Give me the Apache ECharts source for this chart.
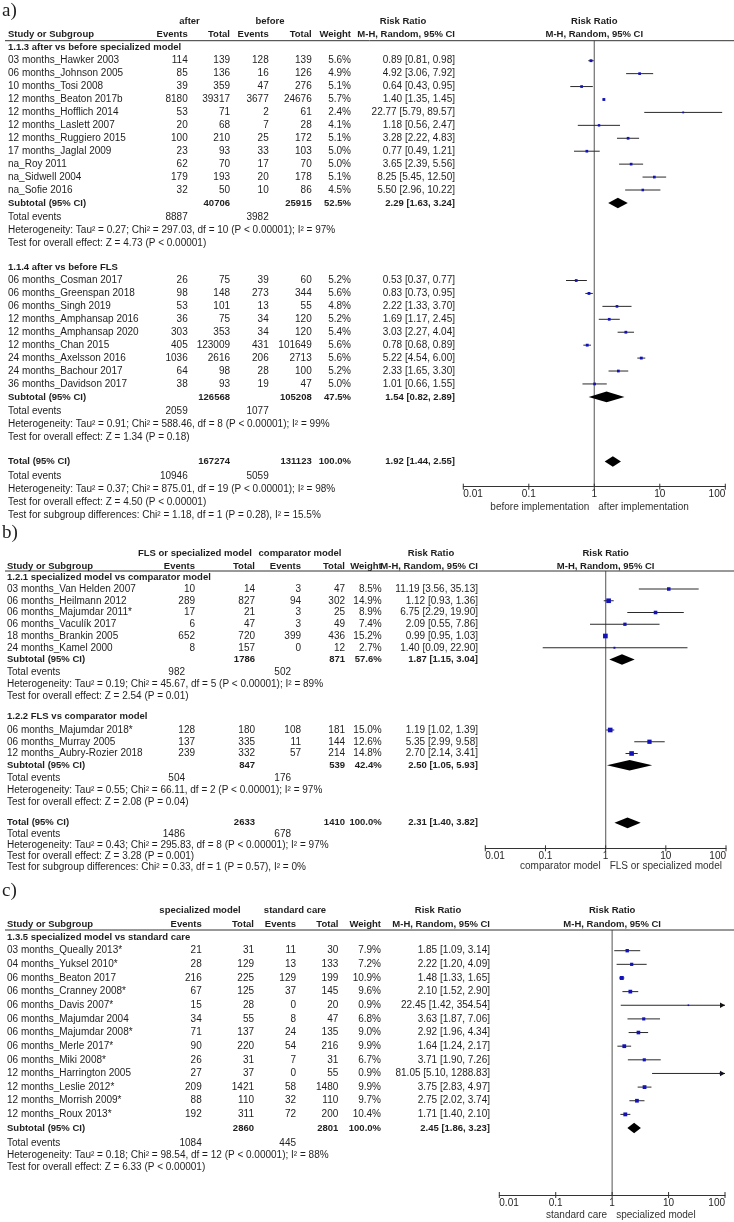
<!DOCTYPE html>
<html><head><meta charset="utf-8">
<script src="https://cdn.jsdelivr.net/npm/echarts@6/dist/echarts.min.js"></script>
<style>html,body{margin:0;padding:0;background:#fff}#c{width:734px;height:1222px}</style>
</head><body><div id="c"></div>
<script>
// ---------------- DATA ----------------
const TICKS = [0.01, 0.1, 1, 10, 100];
const TICK_LABELS = ['0.01', '0.1', '1', '10', '100'];

// Panel a, subgroup 1.1.3
const A1_NAMES = ['03 months_Hawker 2003','06 months_Johnson 2005','10 months_Tosi 2008','12 months_Beaton 2017b','12 months_Hofflich 2014','12 months_Laslett 2007','12 months_Ruggiero 2015','17 months_Jaglal 2009','na_Roy 2011','na_Sidwell 2004','na_Sofie 2016'];
const A1_E1 = [114, 85, 39, 8180, 53, 20, 100, 23, 62, 179, 32];
const A1_T1 = [139, 136, 359, 39317, 71, 68, 210, 93, 70, 193, 50];
const A1_E2 = [128, 16, 47, 3677, 2, 7, 25, 33, 17, 20, 10];
const A1_T2 = [139, 126, 276, 24676, 61, 28, 172, 103, 70, 178, 86];
const A1_W  = [5.6, 4.9, 5.1, 5.7, 2.4, 4.1, 5.1, 5.0, 5.0, 5.1, 4.5];
const A1_RR = [0.89, 4.92, 0.64, 1.40, 22.77, 1.18, 3.28, 0.77, 3.65, 8.25, 5.50];
const A1_LO = [0.81, 3.06, 0.43, 1.35, 5.79, 0.56, 2.22, 0.49, 2.39, 5.45, 2.96];
const A1_HI = [0.98, 7.92, 0.95, 1.45, 89.57, 2.47, 4.83, 1.21, 5.56, 12.50, 10.22];
const A1_SUB = [40706, 25915, 52.5, 2.29, 1.63, 3.24];
const A1_EV = [8887, 3982];
const A1_HET = 'Heterogeneity: Tau² = 0.27; Chi² = 297.03, df = 10 (P < 0.00001); I² = 97%';
const A1_Z = 'Test for overall effect: Z = 4.73 (P < 0.00001)';

// Panel a, subgroup 1.1.4
const A2_NAMES = ['06 months_Cosman 2017','06 months_Greenspan 2018','06 months_Singh 2019','12 months_Amphansap 2016','12 months_Amphansap 2020','12 months_Chan 2015','24 months_Axelsson 2016','24 months_Bachour 2017','36 months_Davidson 2017'];
const A2_E1 = [26, 98, 53, 36, 303, 405, 1036, 64, 38];
const A2_T1 = [75, 148, 101, 75, 353, 123009, 2616, 98, 93];
const A2_E2 = [39, 273, 13, 34, 34, 431, 206, 28, 19];
const A2_T2 = [60, 344, 55, 120, 120, 101649, 2713, 100, 47];
const A2_W  = [5.2, 5.6, 4.8, 5.2, 5.4, 5.6, 5.6, 5.2, 5.0];
const A2_RR = [0.53, 0.83, 2.22, 1.69, 3.03, 0.78, 5.22, 2.33, 1.01];
const A2_LO = [0.37, 0.73, 1.33, 1.17, 2.27, 0.68, 4.54, 1.65, 0.66];
const A2_HI = [0.77, 0.95, 3.70, 2.45, 4.04, 0.89, 6.00, 3.30, 1.55];
const A2_SUB = [126568, 105208, 47.5, 1.54, 0.82, 2.89];
const A2_EV = [2059, 1077];
const A2_HET = 'Heterogeneity: Tau² = 0.91; Chi² = 588.46, df = 8 (P < 0.00001); I² = 99%';
const A2_Z = 'Test for overall effect: Z = 1.34 (P = 0.18)';

const AT_SUB = [167274, 131123, 100.0, 1.92, 1.44, 2.55];
const AT_EV = [10946, 5059];
const AT_HET = 'Heterogeneity: Tau² = 0.37; Chi² = 875.01, df = 19 (P < 0.00001); I² = 98%';
const AT_Z = 'Test for overall effect: Z = 4.50 (P < 0.00001)';
const AT_SG = 'Test for subgroup differences: Chi² = 1.18, df = 1 (P = 0.28), I² = 15.5%';

// Panel b, subgroup 1.2.1
const B1_NAMES = ['03 months_Van Helden 2007','06 months_Heilmann 2012','06 months_Majumdar 2011*','06 months_Vaculík 2017','18 months_Brankin 2005','24 months_Kamel 2000'];
const B1_E1 = [10, 289, 17, 6, 652, 8];
const B1_T1 = [14, 827, 21, 47, 720, 157];
const B1_E2 = [3, 94, 3, 3, 399, 0];
const B1_T2 = [47, 302, 25, 49, 436, 12];
const B1_W  = [8.5, 14.9, 8.9, 7.4, 15.2, 2.7];
const B1_RR = [11.19, 1.12, 6.75, 2.09, 0.99, 1.40];
const B1_LO = [3.56, 0.93, 2.29, 0.55, 0.95, 0.09];
const B1_HI = [35.13, 1.36, 19.90, 7.86, 1.03, 22.90];
const B1_SUB = [1786, 871, 57.6, 1.87, 1.15, 3.04];
const B1_EV = [982, 502];
const B1_HET = 'Heterogeneity: Tau² = 0.19; Chi² = 45.67, df = 5 (P < 0.00001); I² = 89%';
const B1_Z = 'Test for overall effect: Z = 2.54 (P = 0.01)';

// Panel b, subgroup 1.2.2
const B2_NAMES = ['06 months_Majumdar 2018*','06 months_Murray 2005','12 months_Aubry-Rozier 2018'];
const B2_E1 = [128, 137, 239];
const B2_T1 = [180, 335, 332];
const B2_E2 = [108, 11, 57];
const B2_T2 = [181, 144, 214];
const B2_W  = [15.0, 12.6, 14.8];
const B2_RR = [1.19, 5.35, 2.70];
const B2_LO = [1.02, 2.99, 2.14];
const B2_HI = [1.39, 9.58, 3.41];
const B2_SUB = [847, 539, 42.4, 2.50, 1.05, 5.93];
const B2_EV = [504, 176];
const B2_HET = 'Heterogeneity: Tau² = 0.55; Chi² = 66.11, df = 2 (P < 0.00001); I² = 97%';
const B2_Z = 'Test for overall effect: Z = 2.08 (P = 0.04)';

const BT_SUB = [2633, 1410, 100.0, 2.31, 1.40, 3.82];
const BT_EV = [1486, 678];
const BT_HET = 'Heterogeneity: Tau² = 0.43; Chi² = 295.83, df = 8 (P < 0.00001); I² = 97%';
const BT_Z = 'Test for overall effect: Z = 3.28 (P = 0.001)';
const BT_SG = 'Test for subgroup differences: Chi² = 0.33, df = 1 (P = 0.57), I² = 0%';

// Panel c, subgroup 1.3.5
const C1_NAMES = ['03 months_Queally 2013*','04 months_Yuksel 2010*','06 months_Beaton 2017','06 months_Cranney 2008*','06 months_Davis 2007*','06 months_Majumdar 2004','06 months_Majumdar 2008*','06 months_Merle 2017*','06 months_Miki 2008*','12 months_Harrington 2005','12 months_Leslie 2012*','12 months_Morrish 2009*','12 months_Roux 2013*'];
const C1_E1 = [21, 28, 216, 67, 15, 34, 71, 90, 26, 27, 209, 88, 192];
const C1_T1 = [31, 129, 225, 125, 28, 55, 137, 220, 31, 37, 1421, 110, 311];
const C1_E2 = [11, 13, 129, 37, 0, 8, 24, 54, 7, 0, 58, 32, 72];
const C1_T2 = [30, 133, 199, 145, 20, 47, 135, 216, 31, 55, 1480, 110, 200];
const C1_W  = [7.9, 7.2, 10.9, 9.6, 0.9, 6.8, 9.0, 9.9, 6.7, 0.9, 9.9, 9.7, 10.4];
const C1_RR = [1.85, 2.22, 1.48, 2.10, 22.45, 3.63, 2.92, 1.64, 3.71, 81.05, 3.75, 2.75, 1.71];
const C1_LO = [1.09, 1.20, 1.33, 1.52, 1.42, 1.87, 1.96, 1.24, 1.90, 5.10, 2.83, 2.02, 1.40];
const C1_HI = [3.14, 4.09, 1.65, 2.90, 354.54, 7.06, 4.34, 2.17, 7.26, 1288.83, 4.97, 3.74, 2.10];
const C1_SUB = [2860, 2801, 100.0, 2.45, 1.86, 3.23];
const C1_EV = [1084, 445];
const C1_HET = 'Heterogeneity: Tau² = 0.18; Chi² = 98.54, df = 12 (P < 0.00001); I² = 88%';
const C1_Z = 'Test for overall effect: Z = 6.33 (P < 0.00001)';

// ---------------- STRUCTURE ----------------
function sec(title, names, e1, t1, e2, t2, w, rr, lo, hi, sub, ev, het, z) {
  return {title, names, e1, t1, e2, t2, w, rr, lo, hi, sub, ev, het, z};
}
const PANELS = [
  { label: 'a)', groups: ['after', 'before'], caps: ['before implementation', 'after implementation'],
    sections: [
      sec('1.1.3 after vs before specialized model', A1_NAMES, A1_E1, A1_T1, A1_E2, A1_T2, A1_W, A1_RR, A1_LO, A1_HI, A1_SUB, A1_EV, A1_HET, A1_Z),
      sec('1.1.4 after vs before FLS', A2_NAMES, A2_E1, A2_T1, A2_E2, A2_T2, A2_W, A2_RR, A2_LO, A2_HI, A2_SUB, A2_EV, A2_HET, A2_Z)],
    total: {sub: AT_SUB, ev: AT_EV, het: AT_HET, z: AT_Z, sg: AT_SG} },
  { label: 'b)', groups: ['FLS or specialized model', 'comparator model'], caps: ['comparator model', 'FLS or specialized model'],
    sections: [
      sec('1.2.1 specialized model vs comparator model', B1_NAMES, B1_E1, B1_T1, B1_E2, B1_T2, B1_W, B1_RR, B1_LO, B1_HI, B1_SUB, B1_EV, B1_HET, B1_Z),
      sec('1.2.2 FLS vs comparator model', B2_NAMES, B2_E1, B2_T1, B2_E2, B2_T2, B2_W, B2_RR, B2_LO, B2_HI, B2_SUB, B2_EV, B2_HET, B2_Z)],
    total: {sub: BT_SUB, ev: BT_EV, het: BT_HET, z: BT_Z, sg: BT_SG} },
  { label: 'c)', groups: ['specialized model', 'standard care'], caps: ['standard care', 'specialized model'],
    sections: [
      sec('1.3.5 specialized model vs standard care', C1_NAMES, C1_E1, C1_T1, C1_E2, C1_T2, C1_W, C1_RR, C1_LO, C1_HI, C1_SUB, C1_EV, C1_HET, C1_Z)],
    total: null }
];

// ---------------- LAYOUT ----------------
const LAYOUTS = [
  { labelY: 11, y0: 60.7, dy: 12.93, h1: 21.7, h2: 34.3, line: 40.7, axis: 486.7, plotL: 463.3, plotR: 725.3, top: 0, bottom: 525,
    cols: {name: 8, e1: 187.7, t1: 230, e2: 268.7, t2: 311.7, w: 351, rr: 455}, evOff: 0, grpX: [189.5, 270, 403],
    footer: [14.8, 27.8, 40.8, 53.8], totFooter: [14.8, 27.8, 40.8, 53.8], secGap: 0, tickMargin: 3, capOff: 21 },
  { labelY: 533, y0: 589, dy: 11.75, h1: 553.3, h2: 566, line: 571, axis: 848.3, plotL: 485.3, plotR: 726, top: 525, bottom: 875,
    cols: {name: 7, e1: 195, t1: 255, e2: 301, t2: 345, w: 381.7, rr: 478}, evOff: -10, grpX: [195, 300, 431],
    footer: [13.2, 25.2, 37.2], totFooter: [11.5, 22.6, 33.6, 44.2], secGap: 0.2, tickMargin: 2.5, capOff: 17.5 },
  { labelY: 891, y0: 950.7, dy: 13.64, h1: 910.7, h2: 924, line: 930, axis: 1195, plotL: 499.3, plotR: 725, top: 875, bottom: 1222,
    cols: {name: 7, e1: 201.7, t1: 254, e2: 296, t2: 338.3, w: 381, rr: 490}, evOff: 0, grpX: [200, 295, 438],
    footer: [15.3, 27.5, 39.7], totFooter: [15.3, 27.5, 39.7], secGap: 0, tickMargin: 3, capOff: 20 }
];
const FONT = '"Liberation Sans", Arial, Helvetica, sans-serif';
const SERIF = '"Liberation Serif", "Times New Roman", serif';
const TEXT = '#1e1e1e';
const FS = 10, FS_BOLD = 9.5;
const XMIN = 0.01, XMAX = 100;

const f2 = v => v.toFixed(2);
const rrText = (r, lo, hi) => f2(r) + ' [' + f2(lo) + ', ' + f2(hi) + ']';
const wText = w => w.toFixed(1) + '%';

function buildPanel(L, D) {
  const rowOf = px => (px - L.y0) / L.dy;
  const C = L.cols;
  const cells = [], marks = [];
  const add = (x, r, text, align, bold, extra) => cells.push(Object.assign({x, r, text: String(text), align, bold: !!bold}, extra || {}));
  const mid = (L.plotL + L.plotR) / 2;
  add(2, rowOf(L.labelY), D.label, 'left', false, {font: SERIF, size: 19});
  const r1 = rowOf(L.h1), r2 = rowOf(L.h2);
  add(L.grpX[0], r1, D.groups[0], 'center', true);
  add(L.grpX[1], r1, D.groups[1], 'center', true);
  add(L.grpX[2], r1, 'Risk Ratio', 'center', true);
  add(mid, r1, 'Risk Ratio', 'center', true);
  add(C.name, r2, 'Study or Subgroup', 'left', true);
  add(C.e1, r2, 'Events', 'right', true);
  add(C.t1, r2, 'Total', 'right', true);
  add(C.e2, r2, 'Events', 'right', true);
  add(C.t2, r2, 'Total', 'right', true);
  add(C.w, r2, 'Weight', 'right', true);
  add(C.rr, r2, 'M-H, Random, 95% CI', 'right', true);
  add(mid, r2, 'M-H, Random, 95% CI', 'center', true);
  function summary(rs, label, sub, ev, lines, offs) {
    const fr = offs.map(p => p / L.dy);
    add(C.name, rs, label, 'left', true);
    add(C.t1, rs, sub[0], 'right', true);
    add(C.t2, rs, sub[1], 'right', true);
    add(C.w, rs, wText(sub[2]), 'right', true);
    add(C.rr, rs, rrText(sub[3], sub[4], sub[5]), 'right', true);
    marks.push([sub[3], rs, sub[4], sub[5], sub[2], 1]);
    add(C.name, rs + fr[0], 'Total events', 'left');
    add(C.e1 + L.evOff, rs + fr[0], ev[0], 'right');
    add(C.e2 + L.evOff, rs + fr[0], ev[1], 'right');
    lines.forEach((t, i) => add(C.name, rs + fr[i + 1], t, 'left'));
  }
  let r = 0, lastSub = 0;
  D.sections.forEach((S, si) => {
    add(C.name, r - 1 - (si > 0 ? L.secGap : 0), S.title, 'left', true);
    S.names.forEach((nm, i) => {
      const ri = r + i;
      add(C.name, ri, nm, 'left');
      add(C.e1, ri, S.e1[i], 'right');
      add(C.t1, ri, S.t1[i], 'right');
      add(C.e2, ri, S.e2[i], 'right');
      add(C.t2, ri, S.t2[i], 'right');
      add(C.w, ri, wText(S.w[i]), 'right');
      add(C.rr, ri, rrText(S.rr[i], S.lo[i], S.hi[i]), 'right');
      marks.push([S.rr[i], ri, S.lo[i], S.hi[i], S.w[i], 0]);
    });
    const rs = r + S.names.length;
    summary(rs, 'Subtotal (95% CI)', S.sub, S.ev, [S.het, S.z], L.footer);
    lastSub = rs;
    r = rs + 6;
  });
  if (D.total) {
    const rt = lastSub + 5 - L.secGap / 2;
    summary(rt, 'Total (95% CI)', D.total.sub, D.total.ev, [D.total.het, D.total.z, D.total.sg], L.totFooter);
  }
  return {cells, marks, rowOf};
}

// ---------------- CHART ----------------
const grids = [], xAxes = [], yAxes = [], series = [];
PANELS.forEach((D, pi) => {
  const L = LAYOUTS[pi];
  const B = buildPanel(L, D);
  const rowOf = B.rowOf;
  // table grid
  const gT = grids.length;
  grids.push({left: 0, top: L.top, width: 734, height: L.bottom - L.top});
  xAxes.push({type: 'value', gridIndex: gT, min: 0, max: 734, show: false});
  yAxes.push({type: 'value', gridIndex: gT, min: rowOf(L.top), max: rowOf(L.bottom), inverse: true, show: false});
  const cells = B.cells;
  series.push({
    type: 'custom', xAxisIndex: gT, yAxisIndex: gT, clip: false, silent: true, animation: false, z: 5,
    data: cells.map(c => [c.x, c.r]),
    renderItem: (params, api) => {
      const c = cells[params.dataIndex];
      const p = api.coord([api.value(0), api.value(1)]);
      return {type: 'text', x: p[0], y: p[1], style: {
        text: c.text, fill: TEXT, fontSize: c.size || (c.bold ? FS_BOLD : FS), fontFamily: c.font || FONT,
        fontWeight: c.bold ? 'bold' : 'normal', align: c.align, verticalAlign: 'middle'}};
    }
  });
  series.push({
    type: 'custom', xAxisIndex: gT, yAxisIndex: gT, clip: false, silent: true, animation: false, z: 4,
    data: [[5, rowOf(L.line), 734]],
    renderItem: (params, api) => {
      const a = api.coord([api.value(0), api.value(1)]), b = api.coord([api.value(2), api.value(1)]);
      return {type: 'line', shape: {x1: a[0], y1: a[1], x2: b[0], y2: b[1]}, style: {stroke: '#333', lineWidth: 1}};
    }
  });
  // plot grid
  const gP = grids.length;
  const rTop = rowOf(L.line), rAx = rowOf(L.axis);
  grids.push({left: L.plotL, top: L.line, width: L.plotR - L.plotL, height: L.axis - L.line});
  xAxes.push({type: 'log', gridIndex: gP, min: XMIN, max: XMAX, logBase: 10, splitNumber: 4,
    axisLine: {show: true, onZero: false, lineStyle: {color: '#333', width: 1}},
    axisTick: {show: false}, splitLine: {show: false}, minorTick: {show: false},
    axisLabel: {show: true, fontSize: 10, color: TEXT, fontFamily: FONT, margin: L.tickMargin,
      alignMinLabel: 'left', alignMaxLabel: 'right', showMinLabel: true, showMaxLabel: true,
      formatter: v => { const i = TICKS.findIndex(t => Math.abs(Math.log10(t) - Math.log10(v)) < 1e-6); return i >= 0 ? TICK_LABELS[i] : ''; }}});
  yAxes.push({type: 'value', gridIndex: gP, min: rTop, max: rAx, inverse: true, show: false});
  const caps = D.caps, capOffRows = L.capOff / L.dy;
  series.push({
    type: 'custom', xAxisIndex: gP, yAxisIndex: gP, clip: false, silent: true, animation: false, z: 2,
    data: [[1, rTop, rAx]],
    renderItem: (params, api) => {
      const a = api.coord([api.value(0), api.value(1)]), b = api.coord([api.value(0), api.value(2)]);
      const c = api.coord([api.value(0), api.value(2) + capOffRows]);
      const st = {fill: '#333', fontSize: 10, fontFamily: FONT, verticalAlign: 'middle'};
      return {type: 'group', children: [
        {type: 'line', shape: {x1: a[0], y1: a[1], x2: b[0], y2: b[1]}, style: {stroke: '#7a7a7a', lineWidth: 1.3}},
        {type: 'text', x: c[0] - 5, y: c[1], style: Object.assign({text: caps[0], align: 'right'}, st)},
        {type: 'text', x: c[0] + 4, y: c[1], style: Object.assign({text: caps[1], align: 'left'}, st)}
      ]};
    }
  });
  series.push({
    type: 'custom', xAxisIndex: gP, yAxisIndex: gP, clip: false, silent: true, animation: false, z: 2,
    data: TICKS.map(t => [t, rAx]),
    renderItem: (params, api) => {
      const p = api.coord([api.value(0), api.value(1)]);
      return {type: 'line', shape: {x1: p[0], y1: p[1] - 3, x2: p[0], y2: p[1] + 3}, style: {stroke: '#333', lineWidth: 1}};
    }
  });
  series.push({
    type: 'custom', xAxisIndex: gP, yAxisIndex: gP, clip: false, silent: true, animation: false, z: 3,
    data: B.marks,
    renderItem: (params, api) => {
      const est = api.value(0), r = api.value(1), lo = api.value(2), hi = api.value(3), w = api.value(4), kind = api.value(5);
      const pL = api.coord([Math.max(lo, XMIN), r]), pH = api.coord([Math.min(hi, XMAX), r]), pE = api.coord([est, r]);
      if (kind === 1) {
        const h = 5.3;
        return {type: 'polygon', shape: {points: [[pL[0], pE[1]], [pE[0], pE[1] - h], [pH[0], pE[1]], [pE[0], pE[1] + h]]}, style: {fill: '#000'}};
      }
      const ch = [{type: 'line', shape: {x1: pL[0], y1: pE[1], x2: pH[0], y2: pE[1]}, style: {stroke: '#2a2a2a', lineWidth: 1}}];
      if (hi > XMAX) ch.push({type: 'polygon', shape: {points: [[pH[0], pE[1]], [pH[0] - 5, pE[1] - 2.7], [pH[0] - 5, pE[1] + 2.7]]}, style: {fill: '#111'}});
      const s = Math.max(1.6, 1.2 * Math.sqrt(w));
      ch.push({type: 'rect', shape: {x: pE[0] - s / 2, y: pE[1] - s / 2, width: s, height: s}, style: {fill: '#1212b8'}});
      return {type: 'group', children: ch};
    }
  });
});

const chart = echarts.init(document.getElementById('c'), null, {renderer: 'canvas'});
chart.setOption({animation: false, backgroundColor: '#fff', grid: grids, xAxis: xAxes, yAxis: yAxes, series: series});
</script>
</body></html>
